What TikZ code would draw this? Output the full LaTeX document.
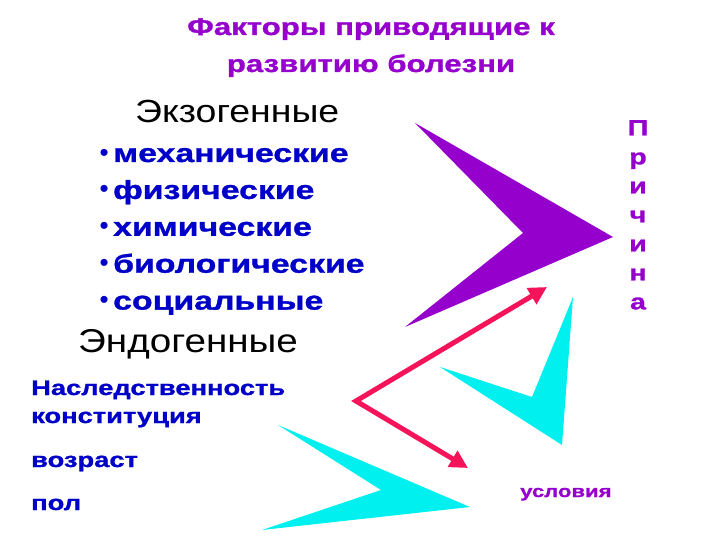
\documentclass[tikz,border=0pt]{standalone}
\usepackage{fontspec}
\setmainfont{Liberation Sans}
\newfontfamily\heavy[FakeStretch=1.3, FakeBold=1.2]{Liberation Sans Bold}
\newfontfamily\plain[FakeStretch=1.17]{Liberation Sans}
\usetikzlibrary{arrows.meta,positioning}
\definecolor{causepurple}{RGB}{150,0,205}
\definecolor{itemblue}{RGB}{0,0,200}
\definecolor{arrowred}{RGB}{245,20,90}
\definecolor{chevcyan}{RGB}{0,240,240}
\tikzset{
    heading/.style={font=\heavy\fontsize{24}{37}\selectfont, text=causepurple,
        anchor=base, inner sep=0pt},
    group/.style={font=\plain\fontsize{32}{36}\selectfont, anchor=base west, inner sep=0pt},
    item/.style={font=\heavy\fontsize{26}{30}\selectfont, text=itemblue, inner sep=0pt,
        text height=20pt, text depth=6pt,
        label={[text=itemblue, font=\fontsize{26}{26}\selectfont, inner sep=0pt,
            label distance=4pt]left:\textbullet}},
    endo/.style={font=\heavy\fontsize{21}{24}\selectfont, text=itemblue,
        anchor=base west, inner sep=0pt},
    vword/.style={font=\heavy\fontsize{22}{29}\selectfont, text=causepurple,
        align=center, anchor=north, inner sep=0pt},
    arrow/.style={{Triangle[length=18pt,width=18pt]}-{Triangle[length=18pt,width=18pt]},
        line width=5pt, draw=arrowred, line join=miter},
    chevron/.style={draw=none}
}

\begin{document}
\begin{tikzpicture}[x=1pt,y=-1pt]
    \useasboundingbox (0,0) rectangle (720,540);
    % title
    \node[heading] (title) at (371,35) {Факторы приводящие к};
    \node[heading] (title2) at (371,72) {развитию болезни};
    % exogenous factors
    \node[group] (exo) at (135,123) {Экзогенные};
    \node[item, anchor=base west] (mech) at (113,162) {механические};
    \node[item] (phys) [below right=10.5pt and 0pt of mech.south west] {физические};
    \node[item] (chem) [below right=10.5pt and 0pt of phys.south west] {химические};
    \node[item] (bio) [below right=10.5pt and 0pt of chem.south west] {биологические};
    \node[item] (soc) [below right=10.5pt and 0pt of bio.south west] {социальные};
    % endogenous factors
    \node[group, font=\plain\fontsize{33}{36}\selectfont] (endo) at (78,352) {Эндогенные};
    \node[endo] (hered) at (31,395) {Наследственность};
    \node[endo] (const) at (31,423) {конституция};
    \node[endo] (age) at (31,467) {возраст};
    \node[endo] (sex) at (31,510) {пол};
    \node[font=\heavy\fontsize{17}{20}\selectfont, text=causepurple, anchor=base west,
        inner sep=0pt] (cond) at (520,497) {условия};
    \node[vword] (cause) at (638,120) {П\\р\\и\\ч\\и\\н\\а};
    % chevrons
    \fill[chevron, causepurple] (415,123) -- (613,237) -- (405,327) -- (523,233) -- cycle;
    \fill[chevron, chevcyan] (573,297) -- (562,445) -- (440,367) -- (532,397) -- cycle;
    \fill[chevron, chevcyan] (278,425) -- (470,507) -- (262,530) -- (381,490) -- cycle;
    % red arrows
    \coordinate (up) at (547,287);
    \coordinate (bend) at (356,401);
    \coordinate (down) at (468,468);
    \draw[arrow] (up) -- (bend) -- (down);
\end{tikzpicture}
\end{document}
